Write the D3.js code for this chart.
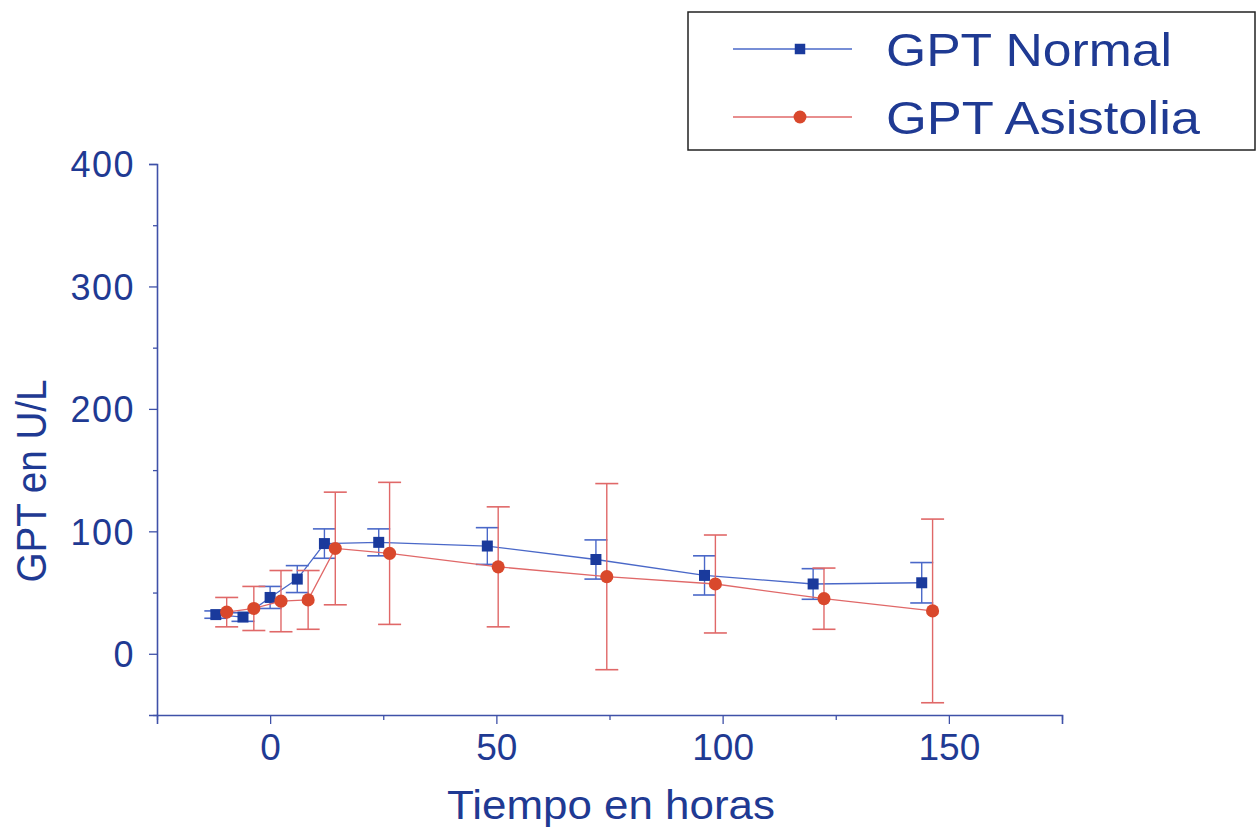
<!DOCTYPE html>
<html>
<head>
<meta charset="utf-8">
<script src="https://cdn.jsdelivr.net/npm/d3@7"></script>
<style>
  html, body { margin: 0; padding: 0; background: #fff; }
  svg { display: block; }
</style>
</head>
<body>
<svg id="chart" width="1260" height="831"></svg>
<script>
// Time points (hours) and GPT values (U/L) with standard deviations
const normalTime  = [-12, -6, 0, 6, 12, 24, 48, 72, 96, 120, 144];
const normalMean  = [32, 30, 46, 61, 90, 91, 88, 77, 64, 57, 58];
const normalSD    = [3, 3.5, 9, 11, 12, 11, 15, 16, 16, 12.5, 16.5];

const asisTime    = [-9.6, -3.6, 2.4, 8.4, 14.4, 26.4, 50.4, 74.4, 98.4, 122.4, 146.4];
const asisMean    = [34, 37, 43, 44, 86, 82, 71, 63, 57, 45, 35];
const asisSD      = [12, 18, 25, 24, 46, 58, 49, 76, 40, 25, 75];

const xMajorTicks = [0, 50, 100, 150];
const xMinorTicks = [-25, 25, 75, 125, 175];
const yMajorTicks = [0, 100, 200, 300, 400];
const yMinorTicks = [-50, 50, 150, 250, 350];

const seriesNames = ["GPT Normal", "GPT Asistolia"];
const xTitle = "Tiempo en horas";
const yTitle = "GPT en U/L";

const TEXT = "#1f3a93";
const AXIS = "#3f51a8";
const BLUE_MARK = "#1a3a9c";
const BLUE_LINE = "#4a68c8";
const RED_MARK = "#d9482c";
const RED_LINE = "#e06868";
const FONT = "'Liberation Sans', Arial, sans-serif";

const svg = d3.select("#chart");

const x = d3.scaleLinear().domain([-25, 175]).range([157, 1062]);
const y = d3.scaleLinear().domain([-50, 400]).range([715, 164]);

// Axes
const gx = svg.append("g").attr("transform", `translate(0,${y(-50)})`);
gx.call(d3.axisBottom(x).tickValues(xMajorTicks).tickSize(9).tickPadding(10).tickFormat(d3.format("d")));
const gxMinor = svg.append("g").attr("transform", `translate(0,${y(-50)})`);
gxMinor.call(d3.axisBottom(x).tickValues(xMinorTicks).tickSize(5).tickFormat(""));

const gy = svg.append("g").attr("transform", `translate(${x(-25)},0)`);
gy.call(d3.axisLeft(y).tickValues(yMajorTicks).tickSize(8).tickPadding(14).tickFormat(d3.format("d")));
const gyMinor = svg.append("g").attr("transform", `translate(${x(-25)},0)`);
gyMinor.call(d3.axisLeft(y).tickValues(yMinorTicks).tickSize(4).tickFormat(""));

svg.selectAll(".domain").attr("stroke", AXIS).attr("stroke-width", 1.6);
svg.selectAll(".tick line").attr("stroke", AXIS).attr("stroke-width", 1.3);
gxMinor.select(".domain").remove();
gyMinor.select(".domain").remove();

gx.selectAll(".tick text")
  .attr("fill", TEXT).attr("font-family", FONT).attr("font-size", 37);
gy.selectAll(".tick text")
  .attr("fill", TEXT).attr("font-family", FONT).attr("font-size", 36)
  .attr("letter-spacing", 1.5).attr("dy", "0.36em");

// Axis titles
svg.append("text")
  .attr("x", 611).attr("y", 819)
  .attr("text-anchor", "middle")
  .attr("fill", TEXT).attr("font-family", FONT).attr("font-size", 41)
  .attr("textLength", 328).attr("lengthAdjust", "spacingAndGlyphs")
  .text(xTitle);

svg.append("text")
  .attr("transform", "translate(46,481) rotate(-90)")
  .attr("text-anchor", "middle")
  .attr("fill", TEXT).attr("font-family", FONT).attr("font-size", 43)
  .attr("textLength", 203).attr("lengthAdjust", "spacingAndGlyphs")
  .text(yTitle);

// Series drawing
function drawSeries(times, means, sds, lineColor, markColor, shape) {
  const data = times.map((t, i) => ({ t, m: means[i], s: sds[i] }));
  const g = svg.append("g");
  const line = d3.line().x(d => x(d.t)).y(d => y(d.m));
  g.append("path").datum(data)
    .attr("d", line).attr("fill", "none")
    .attr("stroke", lineColor).attr("stroke-width", 1.3);

  const cap = 11.5;
  const eb = g.selectAll(".eb").data(data).enter().append("g");
  eb.append("line")
    .attr("x1", d => x(d.t)).attr("x2", d => x(d.t))
    .attr("y1", d => y(d.m + d.s)).attr("y2", d => y(d.m - d.s))
    .attr("stroke", lineColor).attr("stroke-width", 1.4);
  eb.append("line")
    .attr("x1", d => x(d.t) - cap).attr("x2", d => x(d.t) + cap)
    .attr("y1", d => y(d.m + d.s)).attr("y2", d => y(d.m + d.s))
    .attr("stroke", lineColor).attr("stroke-width", 1.6);
  eb.append("line")
    .attr("x1", d => x(d.t) - cap).attr("x2", d => x(d.t) + cap)
    .attr("y1", d => y(d.m - d.s)).attr("y2", d => y(d.m - d.s))
    .attr("stroke", lineColor).attr("stroke-width", 1.6);

  const sym = shape === "square" ? d3.symbolSquare : d3.symbolCircle;
  const size = shape === "square" ? 121 : 135;
  g.selectAll(".mk").data(data).enter().append("path")
    .attr("transform", d => `translate(${x(d.t)},${y(d.m)})`)
    .attr("d", d3.symbol().type(sym).size(size))
    .attr("fill", markColor);
}

drawSeries(normalTime, normalMean, normalSD, BLUE_LINE, BLUE_MARK, "square");
drawSeries(asisTime, asisMean, asisSD, RED_LINE, RED_MARK, "circle");

// Legend
const legend = svg.append("g");
legend.append("rect")
  .attr("x", 688).attr("y", 12).attr("width", 567).attr("height", 138)
  .attr("fill", "#fff").attr("stroke", "#222").attr("stroke-width", 1.5);

const legendRows = [
  { name: seriesNames[0], line: BLUE_LINE, mark: BLUE_MARK, sym: d3.symbolSquare, size: 110, cy: 49, len: 286 },
  { name: seriesNames[1], line: RED_LINE, mark: RED_MARK, sym: d3.symbolCircle, size: 130, cy: 117, len: 314 }
];
legendRows.forEach(r => {
  legend.append("line")
    .attr("x1", 733).attr("x2", 852).attr("y1", r.cy).attr("y2", r.cy)
    .attr("stroke", r.line).attr("stroke-width", 1.3);
  legend.append("path")
    .attr("transform", `translate(800,${r.cy})`)
    .attr("d", d3.symbol().type(r.sym).size(r.size))
    .attr("fill", r.mark);
  legend.append("text")
    .attr("x", 886).attr("y", r.cy + 17)
    .attr("fill", TEXT).attr("font-family", FONT).attr("font-size", 46)
    .attr("textLength", r.len).attr("lengthAdjust", "spacingAndGlyphs")
    .text(r.name);
});
</script>
</body>
</html>
